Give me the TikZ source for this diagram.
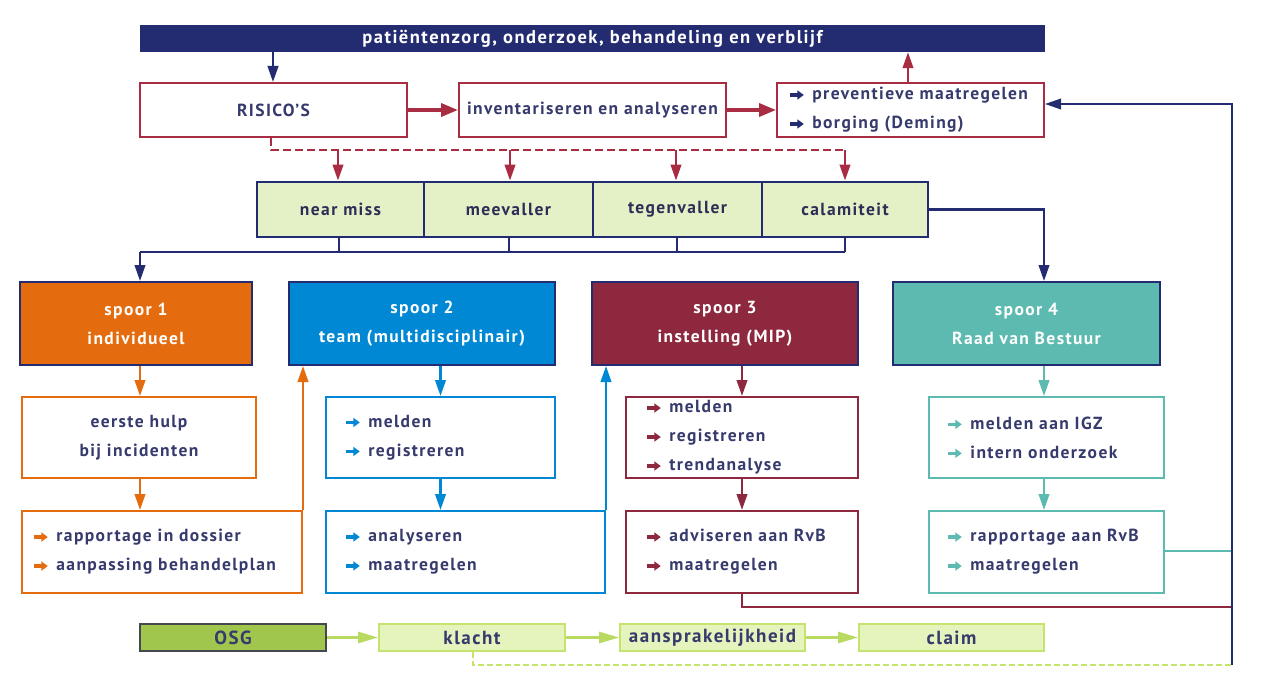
\documentclass[tikz,border=0pt]{standalone}
\usepackage{fontspec}
\setmainfont{PT Sans}[LetterSpace=8]
\usetikzlibrary{arrows.meta,calc}

\definecolor{navy}{RGB}{35,44,112}
\definecolor{txt}{RGB}{54,58,108}
\definecolor{rood}{RGB}{168,44,66}
\definecolor{oranje}{RGB}{228,108,14}
\definecolor{blauw}{RGB}{0,136,212}
\definecolor{bordeaux}{RGB}{142,40,62}
\definecolor{teal}{RGB}{92,186,176}
\definecolor{celfill}{RGB}{228,241,198}
\definecolor{osgfill}{RGB}{160,198,78}
\definecolor{osgrand}{RGB}{70,72,80}
\definecolor{klfill}{RGB}{228,244,188}
\definecolor{klrand}{RGB}{196,228,110}
\definecolor{klpijl}{RGB}{184,218,96}

% small arrow used as a bullet in front of list items
\newcommand{\bul}[1]{\tikz[baseline=-0.55ex,x=1pt,y=1pt]\draw[#1,line width=3.2pt,-{Triangle[length=6.5pt,width=9pt]}](0,0)--(14,0);\hspace{7pt}}
% box helper: name, x1, y1, x2, y2, style, text
\newcommand{\bx}[7]{\node[#6, minimum width={#4-#2}, minimum height={#5-#3}] (#1) at ({(#2+#4)/2},{(#3+#5)/2}) {#7};}
% left-aligned text block inside a box: name, box, left offset, text
\newcommand{\bt}[4]{\node[anchor=west, align=left] (#1) at ([xshift=#3pt]#2.west) {#4};}

\begin{document}
\begin{tikzpicture}[x=1pt,y=-1pt,
  font=\fontsize{17.5}{29}\selectfont\bfseries, text=txt,
  every node/.style={inner sep=0pt},
  tip/.style={-{Triangle[length=16pt,width=10.5pt]}},
  bigtip/.style={-{Triangle[length=17pt,width=13pt]}},
  con/.style={line width=2.4pt},
  topbox/.style={draw=rood, line width=2pt, fill=white},
  cel/.style={draw=navy, line width=2.8pt, fill=celfill, text=txt!80!black},
  spoor/.style={draw=navy, line width=2pt, fill=#1, text=white, align=center},
  sub/.style={draw=#1, line width=2pt, fill=white},
  klbox/.style={draw=klrand, line width=1.8pt, fill=klfill, font=\fontsize{19}{20}\selectfont\bfseries},
]
\useasboundingbox (0,0) rectangle (1261,674);
\fill[white] (0,0) rectangle (1261,674);

% header bar
\bx{bar}{140}{25}{1045}{52}{fill=navy, text=white, font=\fontsize{18.5}{20}\selectfont\bfseries}{pati\"entenzorg, onderzoek, behandeling en verblijf}

% risk analysis row
\bx{ris}{140}{83}{407}{137}{topbox}{RISICO'S}
\bx{inv}{459}{83}{726}{137}{topbox}{inventariseren en analyseren}
\bx{prev}{777}{83}{1044}{137}{topbox}{}
\bt{prevt}{prev}{12}{\bul{navy}preventieve maatregelen\\\bul{navy}borging (Deming)}

% incident categories
\bx{nm}{257}{182}{424}{237}{cel}{near miss}
\bx{mv}{424}{182}{593}{237}{cel}{meevaller}
\bx{tv}{593}{182}{762}{237}{cel}{tegenvaller}
\bx{ca}{762}{182}{928}{237}{cel}{calamiteit}

% tracks
\bx{s1}{20}{282}{252}{365}{spoor=oranje}{spoor 1\\individueel}
\bx{s2}{289}{282}{555}{365}{spoor=blauw}{spoor 2\\team (multidisciplinair)}
\bx{s3}{592}{282}{858}{365}{spoor=bordeaux}{spoor 3\\instelling (MIP)}
\bx{s4}{893}{282}{1160}{365}{spoor=teal}{spoor 4\\Raad van Bestuur}

% track 1
\bx{e1}{22}{397}{256}{478}{sub=oranje, align=center}{eerste hulp\\bij incidenten}
\bx{r1}{22}{511}{302}{593}{sub=oranje}{}
\bt{r1t}{r1}{11}{\bul{oranje}rapportage in dossier\\\bul{oranje}aanpassing behandelplan}
% track 2
\bx{m2}{326}{397}{555}{478}{sub=blauw}{}
\bt{m2t}{m2}{19}{\bul{blauw}melden\\\bul{blauw}registreren}
\bx{a2}{326}{511}{605}{593}{sub=blauw}{}
\bt{a2t}{a2}{19}{\bul{blauw}analyseren\\\bul{blauw}maatregelen}
% track 3
\bx{m3}{626}{397}{858}{478}{sub=bordeaux}{}
\bt{m3t}{m3}{20}{\bul{bordeaux}melden\\\bul{bordeaux}registreren\\\bul{bordeaux}trendanalyse}
\bx{a3}{626}{511}{858}{593}{sub=bordeaux}{}
\bt{a3t}{a3}{20}{\bul{bordeaux}adviseren aan RvB\\\bul{bordeaux}maatregelen}
% track 4
\bx{m4}{929}{397}{1164}{478}{sub=teal}{}
\bt{m4t}{m4}{18}{\bul{teal}melden aan IGZ\\\bul{teal}intern onderzoek}
\bx{a4}{929}{511}{1164}{593}{sub=teal}{}
\bt{a4t}{a4}{18}{\bul{teal}rapportage aan RvB\\\bul{teal}maatregelen}

% complaints row
\bx{osg}{140}{624}{326}{651}{klbox, draw=osgrand, fill=osgfill}{OSG}
\bx{kl}{379}{624}{565}{651}{klbox}{klacht}
\bx{aa}{620}{624}{805}{651}{klbox}{aansprakelijkheid}
\bx{cl}{859}{624}{1044}{651}{klbox}{claim}

% fixed corner points of the connectors
\coordinate (dr) at (845,150);
\coordinate (bl) at (140,252);
\coordinate (rl) at (1232,104);
\coordinate (rb) at (1232,665);
\coordinate (x4) at (1044,0);

% top row connectors
\draw[navy, con, tip] (273,52) -- (ris.north -| 273,0);
\draw[rood, line width=3.4pt, bigtip] (ris.east) -- (inv.west);
\draw[rood, line width=3.4pt, bigtip] (inv.east) -- (prev.west);
\draw[rood, con, tip] (prev.north -| 908,0) -- (bar.south -| 908,0);

% dashed distribution to the categories
\draw[rood, con, dash pattern=on 8pt off 4pt] (ris.south -| 271,0) |- (dr);
\draw[rood, con, tip] (338,150) -- (nm.north -| 338,0);
\draw[rood, con, tip] (510,150) -- (mv.north -| 510,0);
\draw[rood, con, tip] (676,150) -- (tv.north -| 676,0);
\draw[rood, con, tip] (dr) -- (ca.north -| dr);

% categories to track 1 and track 4
\draw[navy, con] (bl) -- (845,252);
\draw[navy, con] (nm.south -| 339,0) -- (339,252);
\draw[navy, con] (mv.south -| 509,0) -- (509,252);
\draw[navy, con] (tv.south -| 677,0) -- (677,252);
\draw[navy, con] (ca.south -| 845,0) -- (845,252);
\draw[navy, con, tip] (bl) -- (s1.north -| bl);
\draw[navy, con, tip] (ca.east) -| (s4.north -| x4);

% track 1
\draw[oranje, con, tip] (s1.south -| bl) -- (e1.north -| bl);
\draw[oranje, con, tip] (e1.south -| bl) -- (r1.north -| bl);
\draw[oranje, con, tip] (r1.north east) -- (r1.north east |- s2.south);
% track 2
\draw[blauw, con, tip] (s2.south -| m2.north) -- (m2.north);
\draw[blauw, con, tip] (m2.south) -- (m2.south |- a2.north);
\draw[blauw, con, tip] (a2.north east) -- (a2.north east |- s3.south);
% track 3
\draw[bordeaux, con, tip] (s3.south -| m3.north) -- (m3.north);
\draw[bordeaux, con, tip] (m3.south) -- (a3.north);
\draw[bordeaux, line width=2pt] (a3.south) -- ++(0,13) -| (rb);
% track 4
\draw[teal, con, tip] (s4.south -| x4) -- (m4.north -| x4);
\draw[teal, con, tip] (m4.south -| x4) -- (a4.north -| x4);
\draw[teal, line width=2pt] (a4.east |- 0,551) -- (rl |- 0,551);

% feedback line into the prevention box
\draw[navy, line width=2pt, tip] (rb) -- (rl) -- (prev.east |- rl);

% complaints chain
\draw[klpijl, line width=2.6pt, -{Triangle[length=20pt,width=11pt]}] (osg) -- (kl);
\draw[klpijl, line width=2.6pt, -{Triangle[length=20pt,width=11pt]}] (kl) -- (aa);
\draw[klpijl, line width=2.6pt, -{Triangle[length=20pt,width=11pt]}] (aa) -- (cl);
\draw[klrand, line width=2pt, dash pattern=on 6pt off 3pt] (kl.south -| 473,0) |- (rb);
\end{tikzpicture}
\end{document}
